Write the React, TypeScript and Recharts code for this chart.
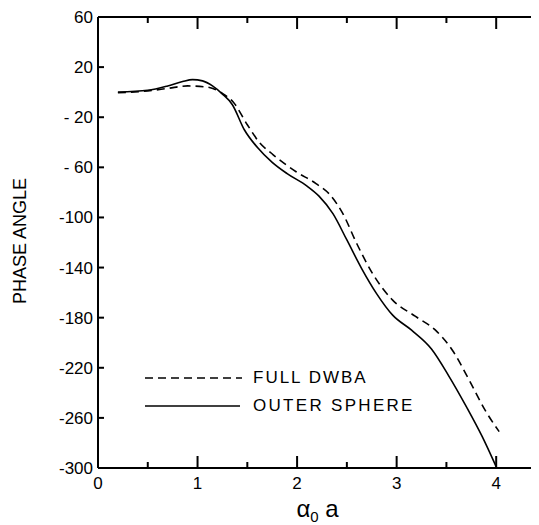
import { LineChart, Line, XAxis, YAxis, Label } from 'recharts'

// phase angle vs alpha0*a
const outerX = [0.2, 0.5, 0.7, 0.85, 0.95, 1.05, 1.15, 1.25, 1.35, 1.47, 1.6, 1.75, 1.9, 2.1, 2.22, 2.36, 2.5, 2.65, 2.8, 2.96, 3.15, 3.35, 3.52, 3.7, 3.86, 4.0]
const outerPhase = [0, 1.5, 5, 8.5, 10, 9, 5, -1.5, -10, -30, -44, -56, -65, -75, -83, -97, -118, -141, -161, -178, -190, -205, -226, -251, -275, -299]

const dwbaX = [0.2, 0.5, 0.7, 0.9, 1.1, 1.25, 1.36, 1.5, 1.62, 1.76, 1.99, 2.19, 2.32, 2.46, 2.6, 2.76, 2.96, 3.19, 3.39, 3.56, 3.73, 3.89, 4.03]
const dwbaPhase = [-0.5, 1, 3, 5, 4, -1, -8, -26, -40, -50, -63.5, -73, -81, -97, -121, -145, -166, -179, -190, -206, -230, -254, -271]

const xTicks = [0, 0.5, 1, 1.5, 2, 2.5, 3, 3.5, 4]
const yTicks = [60, 20, -20, -60, -100, -140, -180, -220, -260, -300]
const xMax = 4.41

// one table, gaps bridged with connectNulls
const allX = Array.from(new Set([...outerX, ...dwbaX])).sort((a, b) => a - b)
const rows = allX.map((x) => {
  const i = outerX.indexOf(x)
  const j = dwbaX.indexOf(x)
  return { x, outer: i >= 0 ? outerPhase[i] : null, dwba: j >= 0 ? dwbaPhase[j] : null }
})

const FONT = '"Liberation Sans", Arial, sans-serif'

const fmtY = (v: number) => (v < 0 && v > -100 ? `- ${-v}` : String(v))

// tickSize=1, tickMargin=0 -> tick anchor sits 1px outside the axis line
function BottomTick({ x, y, payload }: any) {
  const major = Number.isInteger(payload.value)
  return (
    <g>
      <line x1={x} x2={x} y1={y - 1} y2={y - (major ? 13 : 7)} stroke="#000" strokeWidth={2} />
      {major && (
        <text x={x} y={y + 20} textAnchor="middle" fontSize={17} fill="#000">
          {payload.value}
        </text>
      )}
    </g>
  )
}

function TopTick({ x, y, payload }: any) {
  const major = Number.isInteger(payload.value)
  return (
    <g>
      <line x1={x} x2={x} y1={y + 1} y2={y + (major ? 13 : 7)} stroke="#000" strokeWidth={2} />
    </g>
  )
}

function LeftTick({ x, y, payload }: any) {
  return (
    <g>
      <line x1={x + 1} x2={x + 7} y1={y} y2={y} stroke="#000" strokeWidth={2} />
      <text x={x - 4} y={y + 6} textAnchor="end" fontSize={17} fill="#000">
        {fmtY(payload.value)}
      </text>
    </g>
  )
}

function RightTick({ x, y }: any) {
  return (
    <g>
      <line x1={x - 1} x2={x - 7} y1={y} y2={y} stroke="#000" strokeWidth={2} />
    </g>
  )
}

function XTitle(props: any) {
  const vb = props.viewBox || { x: 98, width: 440 }
  const cx = vb.x + vb.width / 2
  return (
    <text x={cx} y={517} textAnchor="middle" fontSize={24} fill="#000">
      α<tspan fontSize={15} dy={5}>0</tspan>
      <tspan dy={-5}> a</tspan>
    </text>
  )
}

function YTitle(props: any) {
  const vb = props.viewBox || { x: 0, y: 17 }
  const cx = vb.x + 25
  const cy = vb.y + 224
  return (
    <text x={cx} y={cy} transform={`rotate(-90, ${cx}, ${cy})`} textAnchor="middle" fontSize={18} fill="#000">
      PHASE ANGLE
    </text>
  )
}

const keyText: any = { position: 'absolute', left: 113, fontSize: 17, letterSpacing: 2, lineHeight: '20px' }

export default function App() {
  return (
    <div style={{ position: 'relative', width: 539, height: 525, margin: '-8px 0 0 -8px', fontFamily: FONT }}>
      <LineChart width={539} height={525} data={rows} margin={{ top: 16, right: 1, bottom: 1, left: 1 }}>
        <XAxis
          xAxisId="b"
          dataKey="x"
          type="number"
          domain={[0, xMax]}
          ticks={xTicks}
          allowDataOverflow
          height={56}
          tickSize={1}
          tickMargin={0}
          tickLine={false}
          axisLine={{ stroke: '#000', strokeWidth: 2 }}
          tick={<BottomTick />}
        >
          <Label content={<XTitle />} />
        </XAxis>
        <XAxis
          xAxisId="t"
          orientation="top"
          dataKey="x"
          type="number"
          domain={[0, xMax]}
          ticks={xTicks}
          allowDataOverflow
          height={1}
          tickSize={1}
          tickMargin={0}
          tickLine={false}
          axisLine={{ stroke: '#000', strokeWidth: 2 }}
          tick={<TopTick />}
        />
        <YAxis
          yAxisId="l"
          type="number"
          domain={[-300, 60]}
          ticks={yTicks}
          allowDataOverflow
          width={97}
          tickSize={1}
          tickMargin={0}
          tickLine={false}
          axisLine={{ stroke: '#000', strokeWidth: 2 }}
          tick={<LeftTick />}
        >
          <Label content={<YTitle />} />
        </YAxis>
        <YAxis
          yAxisId="r"
          orientation="right"
          type="number"
          domain={[-300, 60]}
          ticks={yTicks}
          allowDataOverflow
          width={1}
          tickSize={1}
          tickMargin={0}
          tickLine={false}
          axisLine={{ stroke: '#000', strokeWidth: 2 }}
          tick={<RightTick />}
        />
        <Line
          xAxisId="b"
          yAxisId="l"
          dataKey="dwba"
          name="FULL DWBA"
          type="monotone"
          connectNulls
          stroke="#000"
          strokeWidth={1.6}
          strokeDasharray="8 5"
          dot={false}
          isAnimationActive={false}
        />
        <Line
          xAxisId="b"
          yAxisId="l"
          dataKey="outer"
          name="OUTER SPHERE"
          type="monotone"
          connectNulls
          stroke="#000"
          strokeWidth={1.6}
          dot={false}
          isAnimationActive={false}
        />
      </LineChart>
      <div style={{ position: 'absolute', left: 140, top: 364, width: 300, height: 56 }}>
        <svg width={105} height={56} style={{ position: 'absolute', left: 0, top: 0 }}>
          <line x1={5} x2={102} y1={14} y2={14} stroke="#000" strokeWidth={1.6} strokeDasharray="8 5" />
          <line x1={5} x2={100} y1={42} y2={42} stroke="#000" strokeWidth={1.6} />
        </svg>
        <div style={{ ...keyText, top: 4 }}>FULL DWBA</div>
        <div style={{ ...keyText, top: 32, letterSpacing: 2.3 }}>OUTER SPHERE</div>
      </div>
    </div>
  )
}
